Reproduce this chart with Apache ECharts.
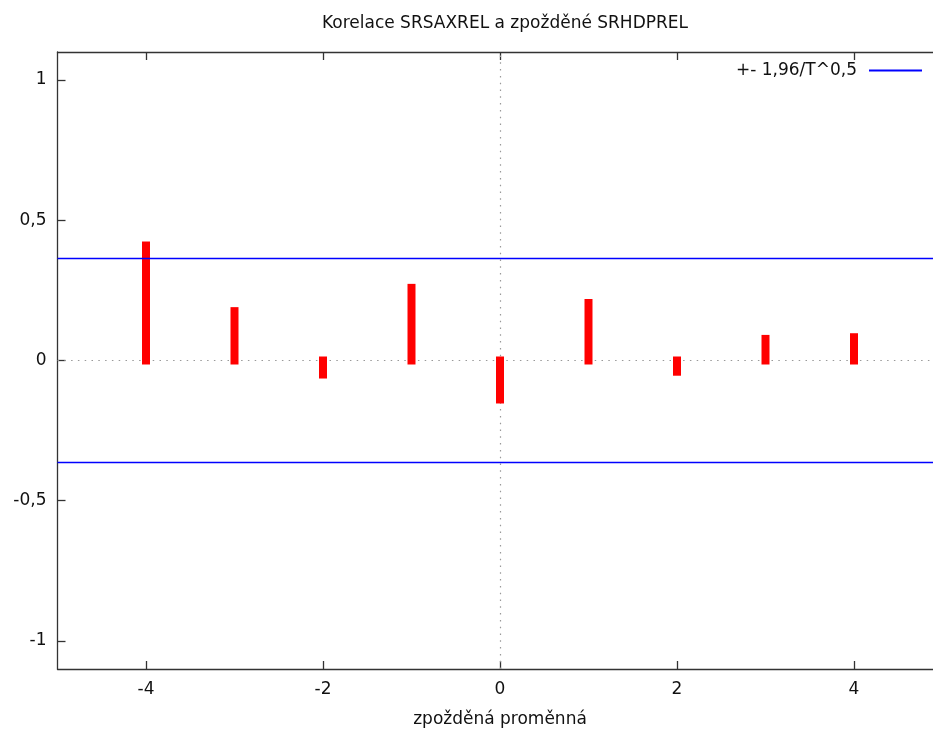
<!DOCTYPE html>
<html>
<head>
<meta charset="utf-8">
<script src="https://cdn.jsdelivr.net/npm/echarts@6/dist/echarts.min.js"></script>
<style>
  html, body { margin: 0; padding: 0; background: #fff; }
  #chart { width: 933px; height: 729px; }
</style>
</head>
<body>
<div id="chart"></div>
<script>
// data
var lags = [-4, -3, -2, -1, 0, 1, 2, 3, 4];
var corr = [0.41, 0.176, -0.05, 0.259, -0.139, 0.205, -0.04, 0.077, 0.083];
var bound = 0.364; // 1,96/T^0,5
var xTicks = [-4, -2, 0, 2, 4];
var yTicks = [-1, -0.5, 0, 0.5, 1];

var titleText = "Korelace SRSAXREL a zpožděné SRHDPREL";
var xName = "zpožděná proměnná";
var boundName = "+- 1,96/T^0,5";

var font = "DejaVu Sans";
var txt = "#111";
var axisCol = "#333";

var impulses = [];
for (var i = 0; i < lags.length; i++) {
    impulses.push([lags[i], corr[i]]);
}

var myChart = echarts.init(document.getElementById('chart'), null, { renderer: 'canvas' });

function axisBase(extra) {
    var a = {
        type: 'value',
        axisLine: { show: true, onZero: false, lineStyle: { color: axisCol, width: 1.3 } },
        splitLine: { show: false },
        axisTick: { show: true, inside: true, length: 8, lineStyle: { color: axisCol, width: 1.3 } },
        axisLabel: { show: false }
    };
    for (var k in extra) a[k] = extra[k];
    return a;
}

myChart.setOption({
    animation: false,
    title: {
        text: titleText,
        left: 500, top: 10,
        textAlign: 'center',
        textStyle: { fontFamily: font, fontSize: 17, fontWeight: 'normal', color: txt }
    },
    legend: {
        right: 6, top: 57,
        align: 'right',
        itemWidth: 53, itemHeight: 2,
        textStyle: { fontFamily: font, fontSize: 17, color: txt, padding: [0, 7, 0, 0] },
        data: [{ name: boundName, icon: 'rect' }]
    },
    grid: { left: 57.5, top: 52, width: 885, height: 617, outerBoundsMode: 'none' },
    xAxis: [
        axisBase({
            position: 'bottom', min: -5, max: 5,
            name: xName, nameLocation: 'middle', nameGap: 42,
            nameTextStyle: { fontFamily: font, fontSize: 17, color: txt },
            axisTick: { show: true, inside: true, length: 8, customValues: xTicks, lineStyle: { color: axisCol, width: 1.3 } },
            axisLabel: { show: true, customValues: xTicks, margin: 12, fontFamily: font, fontSize: 17, color: txt }
        }),
        axisBase({
            position: 'top', min: -5, max: 5,
            axisTick: { show: true, inside: true, length: 8, customValues: xTicks, lineStyle: { color: axisCol, width: 1.3 } }
        })
    ],
    yAxis: [
        axisBase({
            position: 'left', min: -1.1, max: 1.1,
            axisTick: { show: true, inside: true, length: 8, customValues: yTicks, lineStyle: { color: axisCol, width: 1.3 } },
            axisLabel: {
                show: true, customValues: yTicks, margin: 11, fontFamily: font, fontSize: 17, color: txt,
                formatter: function (v) { return String(v).replace('.', ','); }
            }
        }),
        axisBase({
            position: 'right', min: -1.1, max: 1.1,
            axisTick: { show: true, inside: true, length: 8, customValues: yTicks, lineStyle: { color: axisCol, width: 1.3 } }
        })
    ],
    series: [
        {
            type: 'custom',
            name: 'korelace',
            data: impulses,
            clip: true,
            renderItem: function (params, api) {
                var p0 = api.coord([api.value(0), 0]);
                var p1 = api.coord([api.value(0), api.value(1)]);
                var w = 8;
                var top = Math.min(p0[1], p1[1]) - w / 2;
                var bottom = Math.max(p0[1], p1[1]) + w / 2;
                return {
                    type: 'rect',
                    shape: { x: p0[0] - w / 2, y: top, width: w, height: bottom - top },
                    style: { fill: '#ff0000' }
                };
            },
            markLine: {
                silent: true,
                symbol: 'none',
                label: { show: false },
                lineStyle: { color: '#999', width: 1.2, type: [1.5, 5.3] },
                data: [{ xAxis: 0 }, { yAxis: 0 }],
                z: 1
            },
            z: 3
        },
        {
            type: 'line',
            name: boundName,
            data: [[-5, bound], [5, bound]],
            symbol: 'none',
            lineStyle: { color: '#0000ff', width: 1.5 },
            itemStyle: { color: '#0000ff' },
            z: 4
        },
        {
            type: 'line',
            name: boundName,
            data: [[-5, -bound], [5, -bound]],
            symbol: 'none',
            lineStyle: { color: '#0000ff', width: 1.5 },
            itemStyle: { color: '#0000ff' },
            z: 4
        }
    ]
});
</script>
</body>
</html>
